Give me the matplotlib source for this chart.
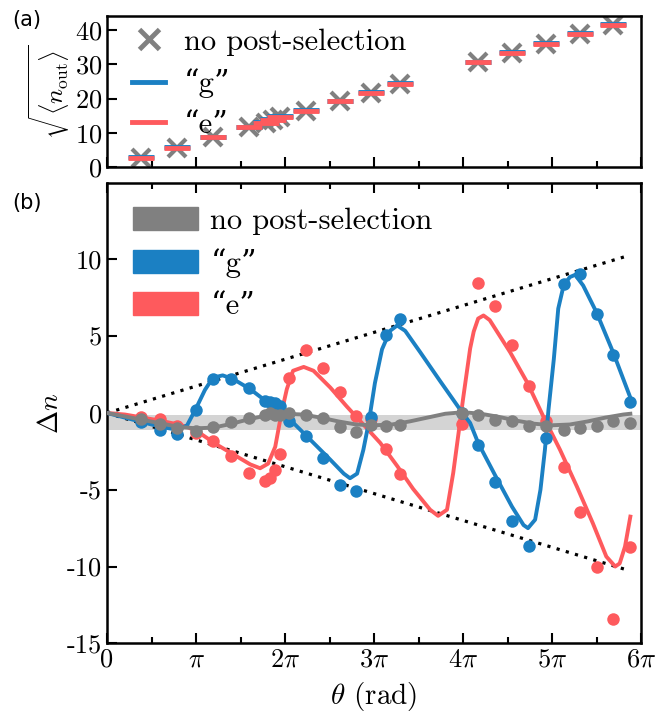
import numpy as np
import matplotlib
matplotlib.use("Agg")
import matplotlib.pyplot as plt
from matplotlib.patches import Patch
from matplotlib.lines import Line2D

plt.rcParams["font.family"] = ["cmr10", "DejaVu Serif"]
plt.rcParams["mathtext.fontset"] = "cm"
plt.rcParams["axes.unicode_minus"] = False
plt.rcParams["axes.formatter.use_mathtext"] = True

BLUE = "#1b80c3"
RED = "#fe5a5d"
GRAY = "#808080"

# ---- panel (a): sqrt(<n_out>) vs theta (theta in units of pi)
theta_a = [0.38, 0.79, 1.19, 1.59, 1.79, 1.87, 1.94, 2.24, 2.62, 2.97, 3.29,
           4.17, 4.55, 4.93, 5.31, 5.69]
nout_all = [2.8, 5.7, 8.7, 11.6, 12.9, 13.9, 14.6, 16.5, 19.2, 21.7, 24.2,
            30.6, 33.3, 36.0, 38.9, 41.5]
nout_g = [2.9, 5.8, 8.8, 11.8, 13.1, 14.1, 14.8, 16.6, 19.3, 21.8, 24.4,
          30.7, 33.4, 36.1, 39.1, 41.7]
nout_e = [2.8, 5.7, 8.7, 11.6, 12.9, 13.9, 14.6, 16.5, 19.2, 21.7, 24.2,
          30.6, 33.3, 36.0, 38.9, 41.5]

# ---- panel (b): measured Delta n
theta_b = [0.38, 0.59, 0.79, 1.0, 1.19, 1.39, 1.59, 1.78, 1.83, 1.89, 1.94,
           2.05, 2.24, 2.43, 2.62, 2.80, 2.97, 3.13, 3.29, 3.99, 4.17, 4.36,
           4.55, 4.74, 4.93, 5.13, 5.31, 5.50, 5.69, 5.88]
dn_all = [-0.4, -0.7, -0.95, -1.15, -0.9, -0.6, -0.3, -0.15, -0.02, -0.12, -0.1,
          -0.02, -0.12, -0.35, -0.9, -1.25, -0.8, -0.85, -0.77, 0.0, -0.16, -0.48,
          -0.55, -0.88, -0.88, -1.13, -0.98, -0.88, -0.55, -0.62]
dn_g = [-0.6, -1.1, -1.38, 0.17, 2.2, 2.2, 1.63, 0.77, 0.72, 0.65, 0.48,
        -0.55, -1.53, -2.95, -4.68, -5.1, -0.27, 5.1, 6.15, 0.0, -2.07, -4.5,
        -7.05, -8.65, -1.63, 8.37, 9.08, 6.45, 3.75, 0.72]
dn_e = [-0.26, -0.39, -0.84, -1.3, -1.85, -2.83, -3.93, -4.45, -4.25, -3.7, -2.7,
        2.25, 4.08, 2.93, 1.34, -0.22, -0.4, -2.35, -3.96, -0.7, 8.47, 6.95,
        4.42, 1.73, -0.55, -3.49, -6.42, -10.0, -13.4, -8.75]

# fitted curves
theta_fit_g = [0, 0.2, 0.4, 0.6, 0.8, 0.9, 1.0, 1.1, 1.19, 1.3, 1.42, 1.61, 1.79,
               1.96, 2.06, 2.32, 2.51, 2.66, 2.73, 2.81, 2.88, 2.94, 3.01, 3.09,
               3.18, 3.26, 3.35, 3.52, 3.74, 3.97, 4.08, 4.17, 4.36, 4.55, 4.68,
               4.73, 4.81, 4.87, 4.92, 4.96, 5.02, 5.07, 5.13, 5.20, 5.26, 5.35,
               5.50, 5.69, 5.88]
dn_fit_g = [0, -0.3, -0.6, -0.9, -1.1, -0.8, 0.3, 1.5, 2.3, 2.45, 2.2, 1.55, 0.75,
            0.1, -0.45, -1.95, -3.05, -3.95, -4.25, -3.95, -2.4, -0.65, 1.95, 4.15,
            5.35, 5.7, 5.35, 3.95, 2.1, 0.2, -0.65, -1.95, -4.05, -6.1, -7.3,
            -7.5, -6.95, -5.0, -2.4, 0.2, 3.5, 6.8, 8.3, 8.85, 9.0, 8.3,
            6.55, 3.9, 1.0]
theta_fit_e = [0, 0.2, 0.4, 0.6, 0.8, 0.9, 1.04, 1.23, 1.42, 1.61, 1.72, 1.81,
               1.89, 1.96, 2.02, 2.09, 2.21, 2.32, 2.51, 2.69, 2.88, 3.07, 3.26,
               3.44, 3.63, 3.72, 3.82, 3.89, 3.95, 4.0, 4.08, 4.12, 4.17, 4.23,
               4.30, 4.53, 4.72, 4.90, 5.09, 5.28, 5.46, 5.61, 5.71, 5.76, 5.82, 5.88]
dn_fit_e = [0, -0.1, -0.3, -0.5, -0.75, -0.9, -1.3, -2.05, -2.7, -3.35, -3.6, -3.3,
            -2.2, 0.0, 1.55, 2.75, 3.0, 2.75, 1.65, 0.45, -0.75, -1.95, -3.45,
            -4.95, -6.3, -6.7, -6.3, -3.9, -1.3, 0.9, 4.2, 5.3, 6.15, 6.35,
            6.05, 3.95, 2.0, -0.2, -2.4, -4.8, -7.2, -9.35, -10.0, -9.8, -8.7, -6.75]
theta_fit_all = [0, 0.4, 0.8, 1.0, 1.2, 1.4, 1.6, 1.8, 2.0, 2.2, 2.4, 2.6, 2.8, 3.0,
                 3.2, 3.4, 3.6, 3.8, 4.0, 4.2, 4.4, 4.6, 4.8, 5.0, 5.2, 5.4, 5.6,
                 5.8, 5.88]
dn_fit_all = [0, -0.45, -0.9, -1.0, -0.95, -0.7, -0.4, -0.15, -0.05, -0.1, -0.3,
              -0.55, -0.75, -0.8, -0.75, -0.55, -0.3, -0.05, 0.05, -0.05, -0.25,
              -0.5, -0.7, -0.8, -0.75, -0.55, -0.3, -0.1, -0.05]

env_theta = [0, 5.83]
env_hi = [0, 10.2]
env_lo = [0, -10.2]
band = (-1.1, -0.1)

xt_labels = ["0", r"$\pi$", r"$2\pi$", r"$3\pi$", r"$4\pi$", r"$5\pi$", r"$6\pi$"]
leg_labels = ["no post-selection", "\u201cg\u201d", "\u201ce\u201d"]


def pi(v):
    return np.asarray(v) * np.pi


def style_axes(ax):
    for s in ax.spines.values():
        s.set_linewidth(1.8)
    ax.set_xlim(0, 6 * np.pi)
    ax.set_xticks(pi(range(7)))
    ax.set_xticks(pi(np.arange(0.5, 6, 1)), minor=True)
    ax.tick_params(which="both", direction="in", width=1.5, labelsize=19)
    ax.tick_params(which="major", length=7)
    ax.tick_params(which="minor", length=4)


fig = plt.figure(figsize=(6.66, 7.15), dpi=100)
ax1 = fig.add_axes([0.1607, 0.766, 0.8018, 0.2116])
ax2 = fig.add_axes([0.1607, 0.1003, 0.8018, 0.6442])

# (a)
ax1.plot(pi(theta_a), nout_all, "x", color=GRAY, ms=13, mew=3, zorder=2)
ax1.plot(pi(theta_a), nout_g, "_", color=BLUE, ms=19, mew=3.5, zorder=3)
ax1.plot(pi(theta_a), nout_e, "_", color=RED, ms=19, mew=3.5, zorder=4)
style_axes(ax1)
ax1.set_ylim(0, 44)
ax1.set_yticks([0, 10, 20, 30, 40])
ax1.set_xticklabels([])
ax1.tick_params(which="both", top=False)
ax1.set_ylabel(r"$\sqrt{\langle n_{\rm out}\rangle}$", fontsize=18, labelpad=2)
h_a = [Line2D([], [], ls="none", marker="x", color=GRAY, ms=15, mew=3.5),
       Line2D([], [], color=BLUE, lw=3.5),
       Line2D([], [], color=RED, lw=3.5)]
ax1.legend(h_a, leg_labels, loc="upper left", bbox_to_anchor=(0.047, 0.92),
           frameon=False, fontsize=22, handlelength=1.08, handletextpad=0.62,
           labelspacing=0.42, borderaxespad=0, borderpad=0)

# (b)
ax2.axhspan(band[0], band[1], color="#d4d4d4", lw=0, zorder=1)
ax2.plot(pi(env_theta), env_hi, color="black", lw=2.3, ls=(0, (1, 2)), zorder=2)
ax2.plot(pi(env_theta), env_lo, color="black", lw=2.3, ls=(0, (1, 2)), zorder=2)
ax2.plot(pi(theta_b), dn_e, "o", color=RED, ms=9, mec="none", zorder=3)
ax2.plot(pi(theta_fit_e), dn_fit_e, color=RED, lw=2.8, zorder=3)
ax2.plot(pi(theta_b), dn_g, "o", color=BLUE, ms=9, mec="none", zorder=4)
ax2.plot(pi(theta_fit_g), dn_fit_g, color=BLUE, lw=2.8, zorder=4)
ax2.plot(pi(theta_b), dn_all, "o", color=GRAY, ms=9, mec="none", zorder=5)
ax2.plot(pi(theta_fit_all), dn_fit_all, color=GRAY, lw=2.8, zorder=5)
style_axes(ax2)
ax2.tick_params(which="both", top=True)
ax2.set_xticklabels(xt_labels)
ax2.set_ylim(-15, 15)
ax2.set_yticks([-15, -10, -5, 0, 5, 10])
ax2.set_yticklabels(["-15", "-10", "-5", "0", "5", "10"])
ax2.set_xlabel(r"$\theta$ (rad)", fontsize=21, labelpad=6)
ax2.set_ylabel(r"$\Delta n$", fontsize=20, labelpad=2)
h_b = [Patch(color=GRAY), Patch(color=BLUE), Patch(color=RED)]
ax2.legend(h_b, leg_labels, loc="upper left", bbox_to_anchor=(0.049, 0.948),
           frameon=False, fontsize=22, handlelength=2.13, handleheight=0.78,
           handletextpad=0.4, labelspacing=0.45, borderaxespad=0, borderpad=0)

fig.text(0.018, 0.963, "(a)", fontsize=15, family="DejaVu Sans")
fig.text(0.018, 0.708, "(b)", fontsize=15, family="DejaVu Sans")

fig.savefig("out.png", dpi=100)
